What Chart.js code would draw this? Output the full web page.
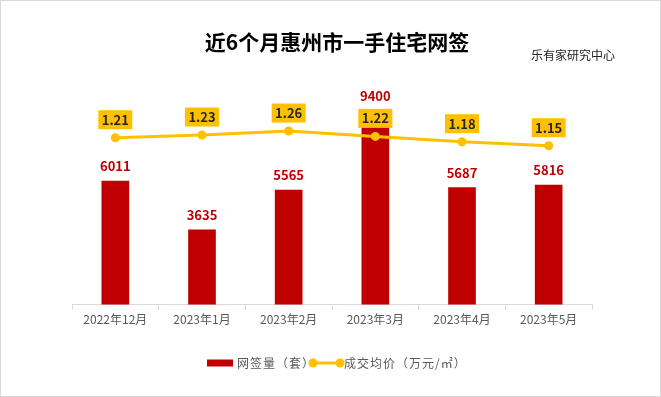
<!DOCTYPE html>
<html>
<head>
<meta charset="utf-8">
<script src="https://cdn.jsdelivr.net/npm/chart.js@4"></script>
<style>
  body { margin: 0; background: #fff; }
  canvas { display: block; }
</style>
</head>
<body>
<canvas id="chart" width="661" height="397"></canvas>
<script>
const months = ["2022年12月", "2023年1月", "2023年2月", "2023年3月", "2023年4月", "2023年5月"];
const signedUnits = [6011, 3635, 5565, 9400, 5687, 5816];
const avgPrice = [1.21, 1.23, 1.26, 1.22, 1.18, 1.15];

const RED = "#c00000";
const GOLD = "#ffc000";
const FONT = "'Noto Sans CJK SC', 'Noto Sans', sans-serif";

// title, source note, legend and frame
const decor = {
   id: "decor",
   beforeDraw(chart) {
      const ctx = chart.ctx;
      ctx.save();
      ctx.fillStyle = "#fff";
      ctx.fillRect(0, 0, chart.width, chart.height);
      ctx.restore();
   },
   afterDraw(chart) {
      const ctx = chart.ctx;
      ctx.save();
      ctx.strokeStyle = "#d9d9d9";
      ctx.lineWidth = 1;
      ctx.strokeRect(0.5, 0.5, chart.width - 1, chart.height - 1);

      ctx.textBaseline = "middle";
      ctx.fillStyle = "#000";
      ctx.textAlign = "center";
      ctx.font = "bold 21px " + FONT;
      ctx.fillText("近6个月惠州市一手住宅网签", 337, 42);

      ctx.textAlign = "left";
      ctx.font = "12px " + FONT;
      ctx.fillStyle = "#222";
      ctx.fillText("乐有家研究中心", 531, 55);

      // legend
      const ly = 363;
      ctx.fillStyle = RED;
      ctx.fillRect(207, ly - 3.5, 26, 7);
      ctx.fillStyle = "#595959";
      ctx.font = "12px " + FONT;
      ctx.letterSpacing = "1px";
      ctx.fillText("网签量（套）", 237, ly);

      ctx.strokeStyle = GOLD;
      ctx.lineWidth = 3;
      ctx.beginPath();
      ctx.moveTo(313, ly);
      ctx.lineTo(340, ly);
      ctx.stroke();
      ctx.fillStyle = GOLD;
      [313, 340].forEach((x) => {
         ctx.beginPath();
         ctx.arc(x, ly, 4.5, 0, Math.PI * 2);
         ctx.fill();
      });
      ctx.fillStyle = "#595959";
      ctx.fillText("成交均价（万元/㎡）", 344, ly);
      ctx.restore();
   },
};

// value labels above bars and price boxes above points
const valueLabels = {
   id: "valueLabels",
   afterDatasetsDraw(chart) {
      const ctx = chart.ctx;
      ctx.save();
      ctx.textAlign = "center";
      ctx.textBaseline = "middle";
      ctx.font = "bold 13px " + FONT;

      const barMeta = chart.getDatasetMeta(1);
      barMeta.data.forEach((bar, i) => {
         ctx.fillStyle = RED;
         ctx.fillText(String(signedUnits[i]), bar.x, bar.y - 15);
      });

      const lineMeta = chart.getDatasetMeta(0);
      lineMeta.data.forEach((pt, i) => {
         const cy = pt.y - 18;
         ctx.fillStyle = GOLD;
         ctx.fillRect(pt.x - 17, cy - 9.5, 34, 19);
         ctx.fillStyle = "#262626";
         ctx.fillText(avgPrice[i].toFixed(2), pt.x, cy);
      });
      ctx.restore();
   },
};

const ctx = document.getElementById("chart").getContext("2d");
const chart = new Chart(ctx, {
   type: "bar",
   data: {
      labels: months,
      datasets: [
         {
            type: "line",
            label: "成交均价（万元/㎡）",
            data: avgPrice,
            yAxisID: "y2",
            borderColor: GOLD,
            backgroundColor: GOLD,
            borderWidth: 3,
            pointRadius: 4.5,
            pointBackgroundColor: GOLD,
            pointBorderWidth: 0,
            tension: 0,
            order: 0,
         },
         {
            type: "bar",
            label: "网签量（套）",
            data: signedUnits,
            yAxisID: "y",
            backgroundColor: RED,
            barThickness: 27,
            order: 1,
         },
      ],
   },
   options: {
      responsive: false,
      animation: false,
      layout: {
         padding: { left: 72, right: 69, top: 99, bottom: 67 },
      },
      plugins: {
         legend: { display: false },
         title: { display: false },
         tooltip: { enabled: false },
      },
      scales: {
         x: {
            grid: {
               offset: true,
               drawOnChartArea: false,
               drawTicks: true,
               tickLength: 5,
               color: "#d9d9d9",
            },
            border: { color: "#d9d9d9", width: 1 },
            ticks: {
               color: "#595959",
               font: { family: FONT, size: 12 },
               padding: 3,
               maxRotation: 0,
            },
         },
         y: { display: false, min: 0, max: 10000 },
         y2: { display: false, min: -0.04, max: 1.5, position: "right" },
      },
   },
   plugins: [decor, valueLabels],
});
</script>
</body>
</html>
